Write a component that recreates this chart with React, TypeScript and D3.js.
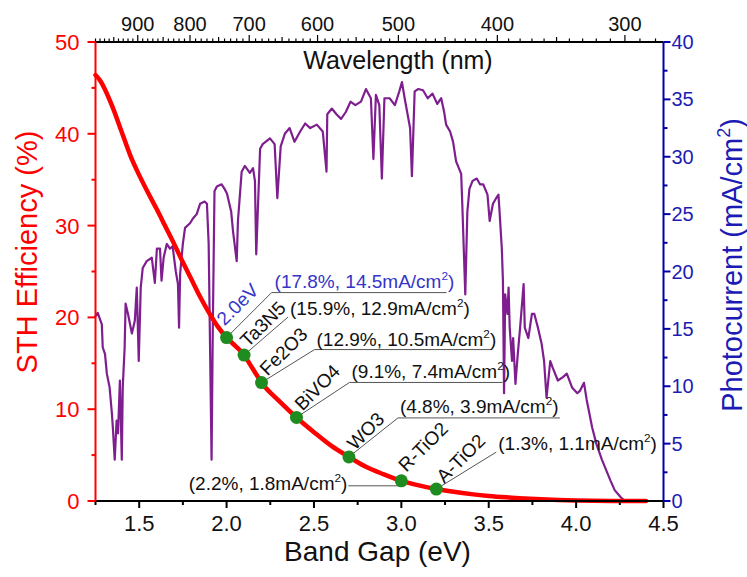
import React from 'react';
import * as d3 from 'd3';

// ---------- data ----------
const bandGapTicks = [1.5, 2.0, 2.5, 3.0, 3.5, 4.0, 4.5];
const bandGapMinor = [1.25, 1.75, 2.25, 2.75, 3.25, 3.75, 4.25];
const sthTicks = [0, 10, 20, 30, 40, 50];
const sthMinor = [5, 15, 25, 35, 45];
const pcTicks = [0, 5, 10, 15, 20, 25, 30, 35, 40];
const pcMinor = [2.5, 7.5, 12.5, 17.5, 22.5, 27.5, 32.5, 37.5];
const wavelengthLabels = [900, 800, 700, 600, 500, 400, 300];

// STH efficiency curve (band gap eV -> %)
const sthEnergy = [1.25, 1.28, 1.3, 1.35, 1.4, 1.45, 1.5, 1.55, 1.6, 1.65, 1.7, 1.75, 1.8, 1.85, 1.9, 1.95, 2.0, 2.05, 2.1, 2.15, 2.2, 2.3, 2.4, 2.5, 2.6, 2.7, 2.8, 2.9, 3.0, 3.1, 3.2, 3.3, 3.4, 3.5, 3.6, 3.7, 3.8, 3.9, 4.0, 4.1, 4.2, 4.3, 4.4];
const sthValue = [46.4, 45.7, 45.0, 42.8, 40.2, 37.6, 35.5, 33.6, 31.8, 29.9, 28.0, 26.0, 24.1, 22.2, 20.5, 19.0, 17.8, 16.9, 15.9, 14.4, 12.9, 10.9, 9.1, 7.5, 6.0, 4.8, 3.7, 2.9, 2.2, 1.7, 1.3, 1.0, 0.75, 0.55, 0.4, 0.28, 0.18, 0.11, 0.06, 0.03, 0.01, 0.0, 0.0];

// Solar spectrum trace (wavelength nm -> photocurrent-axis units)
const specWavelength = [992, 985, 976, 974, 969, 965, 959, 954, 952, 948, 944, 941, 937, 933, 931, 927, 925, 920, 912, 906, 902, 898, 894, 890, 882, 872, 866, 862, 856, 853, 849, 843, 837, 832, 826, 822, 820, 818, 813, 809, 800, 795, 788, 782, 774, 770, 767, 762, 760, 757, 753, 745, 740, 736, 729, 726, 720, 718, 712, 707, 699, 694, 691, 689, 683, 679, 668, 661, 657, 652, 646, 639, 632, 624, 617, 610, 601, 593, 588, 587, 581, 575, 569, 563, 557, 551, 544, 538, 532, 529, 526, 522, 519, 516, 510, 504, 499, 496, 493, 487, 485, 482, 478, 473, 468, 463, 458, 454, 451, 449, 445, 442, 439, 434, 433, 430, 428, 426, 423, 419, 416, 413, 409, 407, 404, 401, 399, 398, 396, 395, 394, 393, 391, 390, 389, 387, 386, 384, 382, 380, 377, 376, 373, 370, 368, 365, 362, 360, 358, 355, 353, 349, 345, 342, 338, 334, 332, 329, 327, 323, 320, 316, 310, 307, 303, 300, 276];
const specValue = [16.0, 16.4, 15.4, 13.4, 12.8, 11.1, 9.9, 7.6, 6.4, 3.6, 7.0, 5.9, 10.5, 3.6, 9.9, 13.4, 17.2, 16.3, 14.6, 15.7, 18.6, 12.2, 18.6, 20.3, 20.9, 21.2, 19.0, 22.0, 22.0, 19.2, 21.2, 22.4, 22.0, 22.2, 20.0, 18.9, 15.1, 19.8, 22.4, 23.8, 24.2, 24.6, 25.0, 25.9, 26.1, 25.9, 22.4, 3.6, 14.6, 27.0, 27.4, 27.6, 27.2, 26.8, 25.2, 23.5, 20.9, 24.4, 28.7, 29.2, 28.6, 29.0, 27.9, 21.5, 30.7, 31.1, 31.6, 31.1, 26.4, 30.9, 32.0, 32.5, 31.3, 32.2, 32.9, 32.5, 32.8, 32.2, 28.7, 33.7, 34.2, 33.7, 33.3, 33.9, 34.8, 34.5, 34.8, 35.9, 35.1, 29.8, 35.4, 34.5, 28.1, 35.1, 35.1, 34.5, 35.7, 36.5, 35.1, 32.5, 28.3, 35.7, 35.9, 35.8, 35.1, 35.5, 34.6, 35.1, 33.9, 32.8, 32.2, 31.3, 29.6, 28.5, 26.1, 18.0, 25.2, 27.2, 27.9, 28.1, 27.6, 27.6, 26.7, 24.4, 25.9, 26.4, 26.7, 25.2, 22.0, 19.2, 9.4, 18.0, 16.3, 18.6, 15.1, 12.2, 14.2, 10.2, 12.8, 15.1, 18.9, 15.1, 14.2, 16.3, 16.3, 15.1, 13.7, 12.2, 9.0, 12.2, 11.6, 10.5, 10.8, 11.1, 9.9, 9.4, 9.6, 10.3, 8.8, 6.4, 5.0, 3.6, 1.8, 0.95, 0.35, 0.0, 0.0];

// Materials
const matNames = ['2.0eV', 'Ta3N5', 'Fe2O3', 'BiVO4', 'WO3', 'R-TiO2', 'A-TiO2'];
const matEnergy = [2.0, 2.1, 2.2, 2.4, 2.7, 3.0, 3.2];
const matSTH = [17.8, 15.9, 12.9, 9.1, 4.8, 2.2, 1.3];
const matCurrent = [14.5, 12.9, 10.5, 7.4, 3.9, 1.8, 1.1];

// annotation layout (pixel offsets relative to the dot)
const annoLayout = [
  { lead: [45, -45], under: 175, text: [3, -5], label: [-2, -11], side: 'right', blue: true },
  { lead: [44, -38], under: 0, text: [2, -2], label: [4, -7], side: 'right', blue: false },
  { lead: [53, -33], under: 177, text: [2, -4], label: [6, -6], side: 'right', blue: false },
  { lead: [53, -35], under: 153, text: [2, -4], label: [6, -6], side: 'right', blue: false },
  { lead: [49, -39], under: 162, text: [2, -5], label: [6, -6], side: 'right', blue: false },
  { lead: [-53, 5], under: 0, text: [-1, 4], label: [5, -8], side: 'left', blue: false },
  { lead: [60, -37], under: 0, text: [2, -2], label: [8, -5], side: 'right', blue: false },
];

// ---------- styling ----------
const FONT = "'Liberation Sans', Arial, Helvetica, sans-serif";
const RED = '#ff0000';
const BLUE = '#0000a8';
const BLUE_TXT = '#1c1cb4';
const PURPLE = '#7f1f8f';
const GREEN = '#1f8c1f';
const ANNO_BLUE = '#3535c8';
const GREY = '#555555';

const W = 747, H = 577;
const PL = 95.5, PR = 663.5, PT = 42, PB = 501;

function ValueText({ x, y, sth, cur, color, anchor }: any) {
  const f = 19;
  return (
    <text x={x} y={y} fontSize={f} fill={color} fontFamily={FONT} textAnchor={anchor}>
      {`(${sth.toFixed(1)}%, ${cur.toFixed(1)}mA/cm`}
      <tspan fontSize={f * 0.62} dy={-f * 0.42}>2</tspan>
      <tspan dy={f * 0.42}>)</tspan>
    </text>
  );
}

export default function App() {
  const x = d3.scaleLinear().domain([1.25, 4.5]).range([PL, PR]);
  const yL = d3.scaleLinear().domain([0, 50]).range([PB, PT]);
  const yR = d3.scaleLinear().domain([0, 40]).range([PB, PT]);
  const xTop = d3.scaleLog().domain([990, 275]).range([PL, PR]);

  const specPath = d3
    .line<number>()
    .x((_, i) => xTop(specWavelength[i]))
    .y((d) => yR(d))(specValue) as string;

  const sthPath = d3
    .line<number>()
    .x((_, i) => x(sthEnergy[i]))
    .y((d) => yL(d))
    .curve(d3.curveMonotoneX)(sthValue) as string;

  const topMinor = d3.range(280, 991, 10).filter((w) => xTop(w) >= PL - 0.1 && xTop(w) <= PR + 0.1);

  return (
    <svg width={W} height={H} style={{ position: 'absolute', left: 0, top: 0, background: '#fff' }} fontFamily={FONT}>
      <rect x={0} y={0} width={W} height={H} fill="#fff" />

      {/* spectrum */}
      <path d={specPath} fill="none" stroke={PURPLE} strokeWidth={2.2} strokeLinejoin="round" />

      {/* STH curve */}
      <path d={sthPath} fill="none" stroke={RED} strokeWidth={4.5} strokeLinecap="round" />

      {/* annotations */}
      {matNames.map((name, i) => {
        const px = x(matEnergy[i]);
        const py = yL(matSTH[i]);
        const L = annoLayout[i];
        const ex = px + L.lead[0];
        const ey = py + L.lead[1];
        const labelColor = L.blue ? ANNO_BLUE : '#111';
        return (
          <g key={name}>
            {L.side === 'left' ? (
              <line x1={ex} y1={ey} x2={px - 2} y2={ey} stroke={GREY} strokeWidth={1} />
            ) : (
              <line x1={px} y1={py} x2={ex} y2={ey} stroke={GREY} strokeWidth={1} />
            )}
            {L.under > 0 && <line x1={ex} y1={ey} x2={ex + L.under} y2={ey} stroke={GREY} strokeWidth={1} />}
            <text
              transform={`translate(${px + L.label[0]},${py + L.label[1]}) rotate(-45)`}
              fontSize={19}
              fill={labelColor}
              fontFamily={FONT}
            >
              {name}
            </text>
            <ValueText
              x={ex + L.text[0]}
              y={ey + L.text[1]}
              sth={matSTH[i]}
              cur={matCurrent[i]}
              color={labelColor}
              anchor={L.side === 'left' ? 'end' : 'start'}
            />
          </g>
        );
      })}

      {/* dots */}
      {matEnergy.map((e, i) => (
        <circle key={i} cx={x(e)} cy={yL(matSTH[i])} r={6.5} fill={GREEN} />
      ))}

      {/* bottom axis */}
      <line x1={PL} y1={PB} x2={PR} y2={PB} stroke="#000" strokeWidth={2} />
      {bandGapTicks.map((t) => (
        <g key={t}>
          <line x1={x(t)} y1={PB} x2={x(t)} y2={PB + 7} stroke="#000" strokeWidth={2} />
          <text x={x(t)} y={PB + 30} fontSize={22} textAnchor="middle" fill="#111">
            {t.toFixed(1)}
          </text>
        </g>
      ))}
      {bandGapMinor.map((t) => (
        <line key={t} x1={x(t)} y1={PB} x2={x(t)} y2={PB + 4} stroke="#000" strokeWidth={2} />
      ))}
      <text x={(PL + PR) / 2 - 2} y={561} fontSize={28} textAnchor="middle" fill="#111">
        Band Gap (eV)
      </text>

      {/* top axis */}
      <line x1={PL} y1={PT} x2={PR} y2={PT} stroke="#000" strokeWidth={2} />
      {topMinor.map((w) => {
        const len = w % 100 === 0 ? 7 : w % 50 === 0 ? 5 : 3.5;
        return <line key={w} x1={xTop(w)} y1={PT} x2={xTop(w)} y2={PT - len} stroke="#000" strokeWidth={1.2} />;
      })}
      {wavelengthLabels.map((w) => (
        <text key={w} x={xTop(w)} y={PT - 11} fontSize={20} textAnchor="middle" fill="#111">
          {w}
        </text>
      ))}
      <text x={398} y={69} fontSize={25} textAnchor="middle" fill="#111">
        Wavelength (nm)
      </text>

      {/* left axis */}
      <line x1={PL} y1={PT} x2={PL} y2={PB} stroke={RED} strokeWidth={2} />
      {sthTicks.map((t) => (
        <g key={t}>
          <line x1={PL} y1={yL(t)} x2={PL - 8} y2={yL(t)} stroke={RED} strokeWidth={2} />
          <text x={PL - 16} y={yL(t) + 8} fontSize={22} textAnchor="end" fill={RED}>
            {t}
          </text>
        </g>
      ))}
      {sthMinor.map((t) => (
        <line key={t} x1={PL} y1={yL(t)} x2={PL - 4} y2={yL(t)} stroke={RED} strokeWidth={2} />
      ))}
      <text transform={`translate(37,252) rotate(-90)`} fontSize={29} textAnchor="middle" fill={RED}>
        STH Efficiency (%)
      </text>

      {/* right axis */}
      <line x1={PR} y1={PT} x2={PR} y2={PB} stroke={BLUE} strokeWidth={2} />
      {pcTicks.map((t) => (
        <g key={t}>
          <line x1={PR} y1={yR(t)} x2={PR + 7} y2={yR(t)} stroke={BLUE} strokeWidth={2} />
          <text x={PR + 8} y={yR(t) + 7} fontSize={20} textAnchor="start" fill={BLUE_TXT}>
            {t}
          </text>
        </g>
      ))}
      {pcMinor.map((t) => (
        <line key={t} x1={PR} y1={yR(t)} x2={PR + 4} y2={yR(t)} stroke={BLUE} strokeWidth={2} />
      ))}
      <text transform={`translate(742,265) rotate(-90)`} fontSize={29} textAnchor="middle" fill={BLUE_TXT}>
        Photocurrent (mA/cm
        <tspan fontSize={18} dy={-12}>2</tspan>
        <tspan dy={12}>)</tspan>
      </text>
    </svg>
  );
}
